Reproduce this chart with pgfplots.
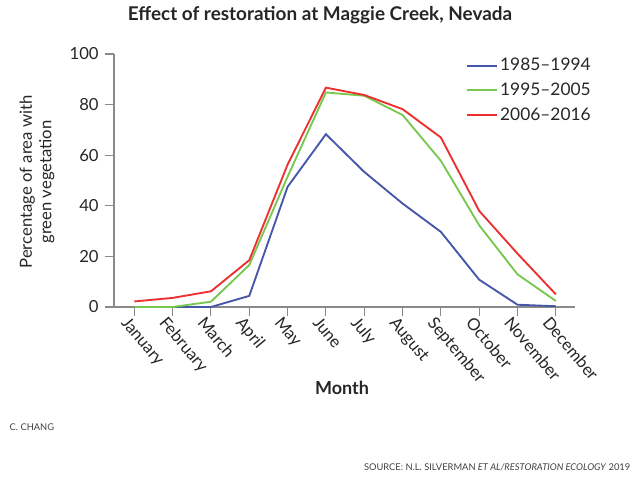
\documentclass[border=0pt]{standalone}
\usepackage{pgfplots}
\pgfplotsset{compat=1.18}
\usepackage{fontspec}
\setmainfont{Lato}
\definecolor{cblue}{HTML}{4656A8}
\definecolor{cgreen}{HTML}{78C850}
\definecolor{cred}{HTML}{EE2F2F}
\definecolor{axgray}{HTML}{8A8A8A}
\begin{document}
\begin{tikzpicture}
\path[use as bounding box] (0,0) rectangle (480pt,357pt);
\begin{axis}[
  at={(85.5pt,126.75pt)}, anchor=south west,
  scale only axis, width=345.75pt, height=189.75pt,
  xmin=-0.53, xmax=11.5, ymin=0, ymax=100,
  axis lines*=left,
  axis line style={axgray, line width=1pt},
  every tick/.style={axgray, line width=0.8pt},
  tick align=outside, major tick length=7pt,
  xtick={0,...,11},
  xticklabels={January,February,March,April,May,June,July,August,September,October,November,December},
  ytick={0,20,...,100},
  /pgf/number format/assume math mode=true,
  tick label style={font=\fontsize{12.5}{14}\selectfont, text=black!85},
  x tick label style={rotate=-50, anchor=north west, inner sep=2pt, xshift=-5pt},
  y tick label style={xshift=-1pt},
  legend style={draw=none, fill=none, at={(0.755,1.005)}, anchor=north west,
    font=\fontsize{13}{15}\selectfont, row sep=3.5pt, text=black!85},
  legend cell align=left,
  legend image code/.code={\draw[#1] (0pt,0pt) -- (22pt,0pt);},
  clip=false,
]
\addplot[cblue, line width=1.4pt] coordinates {(0,0) (1,0) (2,0) (3,4.4) (4,47.5) (5,68.3) (6,53.4) (7,40.9) (8,29.7) (9,10.8) (10,0.9) (11,0.3)};
\addlegendentry{1985--1994}
\addplot[cgreen, line width=1.4pt] coordinates {(0,0) (1,0) (2,2.1) (3,16.6) (4,51.5) (5,84.8) (6,83.5) (7,75.9) (8,57.8) (9,32.3) (10,12.9) (11,2.4)};
\addlegendentry{1995--2005}
\addplot[cred, line width=1.4pt] coordinates {(0,2.2) (1,3.6) (2,6.2) (3,18.5) (4,56.3) (5,86.7) (6,83.8) (7,78.2) (8,67.0) (9,38.0) (10,21.1) (11,5.0)};
\addlegendentry{2006--2016}
\end{axis}
\node[font=\fontsize{14.2}{16}\selectfont\bfseries, text=black!85] at (240pt,345.5pt) {Effect of restoration at Maggie Creek, Nevada};
\node[font=\fontsize{13.5}{15}\selectfont\bfseries, text=black!85] at (256.5pt,66pt) {Month};
\node[font=\fontsize{12.5}{14.5}\selectfont, text=black!85, rotate=90, align=center] at (27.75pt,220.5pt) {Percentage of area with\\green vegetation};
\node[font=\fontsize{7}{8}\selectfont, text=black!75, anchor=west] at (3.75pt,36.75pt) {C. CHANG};
\node[font=\fontsize{7}{8}\selectfont, text=black!75, anchor=east] at (476.25pt,6.75pt) {SOURCE: N.L. SILVERMAN \textit{ET AL/RESTORATION ECOLOGY} 2019};
\end{tikzpicture}
\end{document}
